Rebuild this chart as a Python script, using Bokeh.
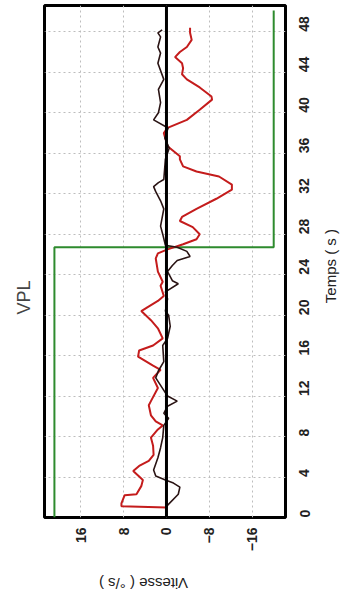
import math
from bokeh.plotting import figure
from bokeh.layouts import column, row
from bokeh.models import Range1d, LinearAxis, FixedTicker, Span, Label
from bokeh.embed import file_html
from bokeh.resources import INLINE

# Data (time in s, velocity in deg/s)
red_t = [1.0, 1.1, 1.4, 2.2, 2.3, 3.1, 3.7, 4.6, 5.1, 5.6, 6.2, 7.1, 7.9, 8.7, 9.1, 9.5, 10.1, 11.1, 11.5, 12.8,
         13.8, 14.6, 15.0, 15.9, 16.5, 17.0, 17.7, 18.7, 19.5, 20.4, 20.8, 21.4, 21.9, 22.9, 23.3, 24.3, 25.6, 26.1,
         26.5, 27.0, 27.5, 28.0, 28.7, 29.3, 29.7, 30.5, 31.5, 32.4, 32.9, 33.7, 34.2, 34.7, 35.4, 35.7, 36.7, 38.0,
         38.5, 39.3, 40.3, 41.3, 41.6, 42.5, 43.3, 43.8, 44.4, 44.9, 45.5, 46.0, 46.5, 47.2, 47.9, 48.4]
red_v = [0, 8.4, 8.4, 7.8, 5.6, 4.7, 4.4, 6.2, 5.1, 3.3, 2.4, 2.5, 2.9, 1.6, 0.7, 2.0, 2.9, 3.3, 2.9, 1.6,
         2.5, 1.1, 2.5, 5.3, 5.1, 2.5, 0.7, 1.6, 2.9, 4.7, 3.5, 1.6, 0.5, 1.1, 0.7, 1.6, 2.0, 1.6,
         -0.2, -3.1, -5.6, -6.2, -4.9, -2.5, -2.9, -5.6, -9.3, -12.2, -12.2, -9.8, -5.6, -3.1, -2.5, -2.5, -0.2, 0.5,
         -0.2, -3.8, -6.2, -8.5, -8.4, -6.2, -3.8, -2.9, -3.1, -2.9, -1.6, -2.5, -3.8, -4.7, -4.4, -4.4]

black_t = [1.1, 2.3, 3.0, 3.4, 3.7, 4.1, 4.7, 5.9, 6.9, 7.9, 9.1, 9.8, 10.3, 11.0, 11.5, 12.0, 13.8, 14.5, 15.4, 17.0,
           17.7, 18.9, 20.0, 20.4, 21.6, 22.3, 23.1, 23.4, 24.3, 24.9, 25.4, 25.8, 26.3, 26.7, 26.9, 28.0, 28.8, 30.5,
           31.3, 32.2, 32.7, 33.1, 33.4, 35.4, 36.5, 37.5, 38.5, 39.3, 40.0, 41.0, 42.3, 43.3, 44.9, 45.9, 46.5, 47.5,
           47.9, 48.2]
black_v = [0, -2.2, -2.5, -1.3, 0.2, 2.0, 2.4, 1.6, 1.1, 0.7, 0.5, -0.4, 0.5, -0.2, -2.0, -0.2, 2.0, 1.5, 0.5, 0.7,
           -0.2, -0.7, -0.4, 0.2, -0.2, 0.2, -2.2, -1.1, -0.2, -1.1, -2.0, -4.4, -3.8, -2.0, 0.2, 0.7, 1.1, 0.5,
           1.1, 2.0, 2.4, 1.5, 0.5, 0.2, -0.5, 0.3, -0.3, 2.4, 1.5, 1.1, 1.5, 0.5, 1.6, 1.1, 1.6, 1.1,
           1.6, 0.8]

green_t = [0, 26.7, 26.7, 50.1]
green_v = [20.9, 20.9, -20.0, -20.0]

time_ticks = [0, 4, 8, 12, 16, 20, 24, 28, 32, 36, 40, 44, 48]
speed_ticks = [16, 8, 0, -8, -16]
title_text = "VPL"
speed_label = "Vitesse ( °/s )"
time_label = "Temps ( s )"

FONT = "Liberation Sans"

MAIN_W, MAIN_H = 317, 554
SIDE_W = 349 - MAIN_W
BOTTOM_H = 599 - MAIN_H

p = figure(width=MAIN_W, height=MAIN_H, output_backend="svg", toolbar_location=None,
           x_range=Range1d(22.75, -22.2), y_range=Range1d(0, 50.6),
           x_axis_location="below", y_axis_location=None,
           title=title_text, title_location="left",
           min_border_left=42, min_border_top=5, min_border_right=MAIN_W - 287,
           min_border_bottom=MAIN_H - 520)

p.title.text_font = FONT
p.title.text_font_size = "18px"
p.title.text_font_style = "normal"
p.title.align = "left"
p.title.offset = 203
p.title.standoff = 22

p.outline_line_color = "black"
p.outline_line_width = 3
p.background_fill_color = "white"

# value axis (bottom)
xa = p.xaxis[0]
xa.ticker = FixedTicker(ticks=speed_ticks)
xa.major_label_orientation = math.pi / 2
xa.major_label_standoff = 10
xa.major_label_text_font = FONT
xa.major_label_text_font_size = "14px"
xa.major_label_text_font_style = "bold"
xa.major_label_text_color = "#222222"
xa.axis_line_color = None
xa.major_tick_line_color = None
xa.minor_tick_line_color = None
xa.major_tick_out = 0
xa.major_tick_in = 0
xa.minor_tick_out = 0

# time axis (right)
ya = LinearAxis(ticker=FixedTicker(ticks=time_ticks))
ya.major_label_orientation = math.pi / 2
ya.major_label_standoff = 19
ya.major_label_text_font = FONT
ya.major_label_text_font_size = "14px"
ya.major_label_text_font_style = "bold"
ya.major_label_text_color = "#222222"
ya.axis_line_color = None
ya.major_tick_line_color = None
ya.minor_tick_line_color = None
ya.major_tick_out = 0
ya.major_tick_in = 0
ya.minor_tick_out = 0
p.add_layout(ya, "right")

p.xgrid.ticker = FixedTicker(ticks=speed_ticks)
p.xgrid.grid_line_color = "#bdbdbd"
p.xgrid.grid_line_dash = "2 3"
p.ygrid[0].ticker = FixedTicker(ticks=time_ticks)
p.ygrid.grid_line_color = "#bdbdbd"
p.ygrid.grid_line_dash = "2 3"

p.line(green_v, green_t, line_color="#2e8b2e", line_width=2)
p.line(red_v, red_t, line_color="#c41c1c", line_width=2)
p.line(black_v, black_t, line_color="#2a1414", line_width=1.6)
p.add_layout(Span(location=0, dimension="height", line_color="black", line_width=3))


def text_panel(w, h):
    f = figure(width=w, height=h, output_backend="svg", toolbar_location=None,
               x_range=Range1d(0, w), y_range=Range1d(0, h),
               x_axis_location=None, y_axis_location=None,
               min_border=0, outline_line_color=None)
    f.grid.visible = False
    return f


# the whole chart is printed rotated: its axis titles are turned as well
side = text_panel(SIDE_W, MAIN_H)
side.add_layout(Label(x=330 - MAIN_W, y=MAIN_H - 282, text=time_label, angle=math.pi / 2,
                      text_align="center", text_baseline="middle", text_font=FONT,
                      text_font_size="15px", text_color="#222222"))

bottom = text_panel(349, BOTTOM_H)
bottom.add_layout(Label(x=143, y=BOTTOM_H - (583 - MAIN_H), text=speed_label, angle=math.pi,
                        text_align="center", text_baseline="middle", text_font=FONT,
                        text_font_size="15px", text_color="#222222"))

layout = column(row(p, side), bottom)

open("out.html", "w").write(file_html(layout, INLINE))
